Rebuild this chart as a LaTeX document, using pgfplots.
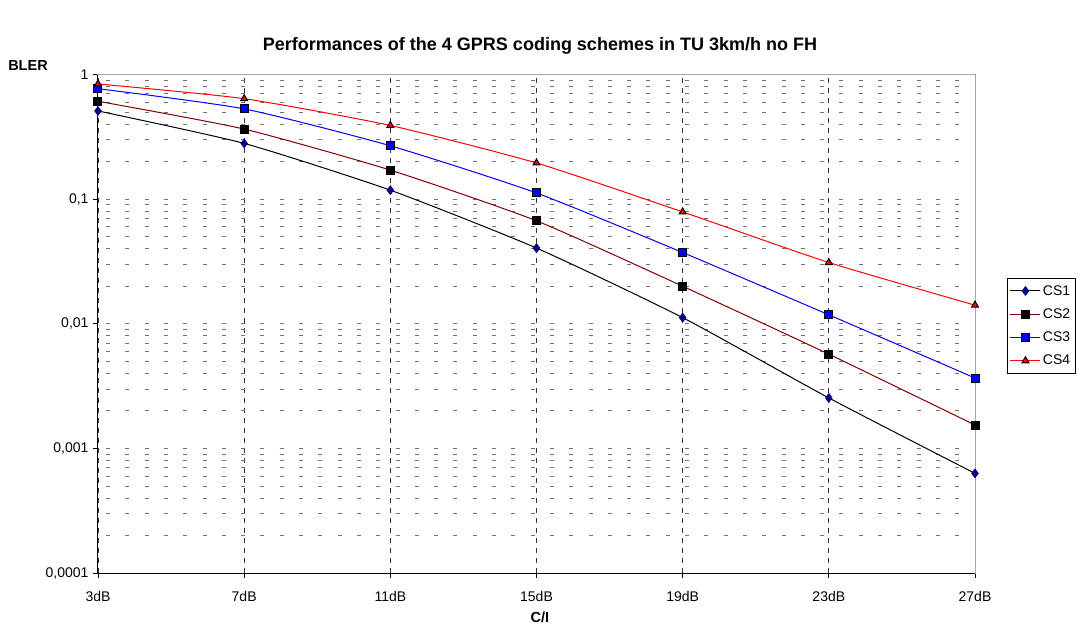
\documentclass[border=0pt]{standalone}
\usepackage{fontspec}
\setmainfont{Liberation Sans}
\usepackage{pgfplots}
\pgfplotsset{compat=1.18}
\definecolor{darkred}{RGB}{128,0,0}
\definecolor{navyc}{RGB}{0,0,128}
\begin{document}
\begin{tikzpicture}
\begin{axis}[
  scale only axis,
  width=877pt, height=498.5pt,
  ymode=log,
  xmin=0, xmax=6,
  ymin=0.0001, ymax=1,
  xtick={0,1,2,3,4,5,6},
  xticklabels={3dB,7dB,11dB,15dB,19dB,23dB,27dB},
  ytick={0.0001,0.001,0.01,0.1,1},
  yticklabels={{0,0001},{0,001},{0,01},{0,1},1},
  xtick pos=left, ytick pos=left,
  /pgf/number format/assume math mode=true,
  tick label style={font=\fontsize{14}{16}\selectfont},
  xticklabel style={yshift=-10pt},
  yticklabel style={xshift=-1pt},
  tick align=outside,
  major tick length=5pt,
  minor tick length=0pt,
  tick style={black, line width=0.8pt},
  axis line style={gray!70, line width=1pt},
  xmajorgrids,
  ymajorgrids, yminorgrids,
  x grid style={black!80, dash pattern=on 5pt off 5pt, line width=0.8pt},
  y grid style={black!55, dash pattern=on 4pt off 15.3pt, dash phase=-8pt, line width=0.8pt},
  minor y grid style={black!55, dash pattern=on 4pt off 15.3pt, dash phase=-8pt, line width=0.8pt},
  clip=false,
  legend style={at={(rel axis cs:1.036,0.592)}, anchor=north west,
    font=\fontsize{14}{16}\selectfont, draw=black, line width=0.8pt,
    row sep=8pt, inner xsep=3pt, inner ysep=5pt},
  legend cell align=left,
  legend image code/.code={
    \draw[mark repeat=2,mark phase=2] plot coordinates {(0pt,0pt) (15pt,0pt) (30pt,0pt)};
  },
]
\addplot[black, line width=1pt, smooth, tension=0.35, mark=diamond*,
  mark options={solid, fill=navyc, draw=navyc, scale=2.1}]
  coordinates {(0,0.51) (1,0.28) (2,0.118) (3,0.0405) (4,0.0112) (5,0.00254) (6,0.00063)};
\addlegendentry{CS1}
\addplot[darkred, line width=1pt, smooth, tension=0.35, mark=square*,
  mark options={solid, fill=black, draw=black, scale=2}]
  coordinates {(0,0.61) (1,0.365) (2,0.171) (3,0.067) (4,0.020) (5,0.0057) (6,0.00154)};
\addlegendentry{CS2}
\addplot[blue, line width=1pt, smooth, tension=0.35, mark=square*,
  mark options={solid, fill=blue, draw=black, scale=2}]
  coordinates {(0,0.77) (1,0.53) (2,0.268) (3,0.112) (4,0.0373) (5,0.0118) (6,0.00367)};
\addlegendentry{CS3}
\addplot[red, line width=1pt, smooth, tension=0.35, mark=triangle*,
  mark options={solid, fill=red, draw=black, scale=2}]
  coordinates {(0,0.84) (1,0.64) (2,0.39) (3,0.195) (4,0.079) (5,0.031) (6,0.0141)};
\addlegendentry{CS4}
\draw[black, line width=1pt] (rel axis cs:0,1) -- (rel axis cs:0,0) -- (rel axis cs:1,0);
\end{axis}
\node[font=\bfseries\fontsize{18}{20}\selectfont] at (442pt,527pt) {Performances of the 4 GPRS coding schemes in TU 3km/h no FH};
\node[font=\bfseries\fontsize{14.5}{16}\selectfont] at (-70pt,507pt) {BLER};
\node[font=\bfseries\fontsize{14.5}{16}\selectfont] at (442pt,-44pt) {C/I};
\pgfresetboundingbox
\useasboundingbox (-98pt,-68pt) rectangle (981pt,573pt);
\end{tikzpicture}
\end{document}
